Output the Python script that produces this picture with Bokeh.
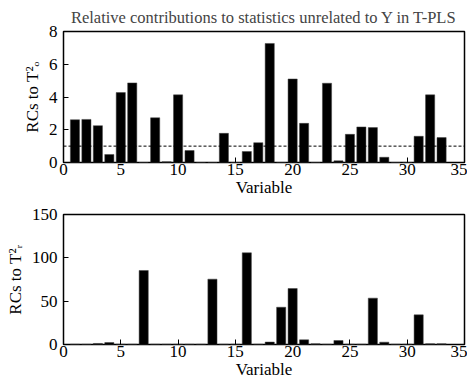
from bokeh.plotting import figure
from bokeh.layouts import column
from bokeh.models import Span, FixedTicker
from bokeh.embed import file_html
from bokeh.resources import INLINE

variables = list(range(1, 34))
rc_to_To2 = [2.61, 2.63, 2.25, 0.49, 4.27, 4.86, 0.0, 2.73, 0.05, 4.13,
             0.73, 0.0, 0.0, 1.78, 0.0, 0.67, 1.21, 7.27, 0.0, 5.10,
             2.39, 0.0, 4.84, 0.1, 1.72, 2.17, 2.13, 0.32, 0.0, 0.0,
             1.60, 4.13, 1.52]
rc_to_Tr2 = [0.3, 0.3, 1.2, 2.2, 0.3, 0.3, 85.4, 0.3, 0.3, 0.3,
             0.3, 0.3, 75.4, 0.3, 0.3, 105.8, 0.3, 2.8, 43.0, 64.6,
             5.4, 0.8, 0.3, 4.6, 0.3, 0.3, 53.5, 2.7, 0.3, 0.3,
             34.2, 0.8, 0.8]
threshold = 1.0
x_ticks = [0, 5, 10, 15, 20, 25, 30, 35]
y1_ticks = [0, 2, 4, 6, 8]
y2_ticks = [0, 50, 100, 150]

FONT = "Liberation Serif"


def style(p, yticks):
    p.outline_line_color = "black"
    p.outline_line_width = 1.5
    p.xgrid.visible = False
    p.ygrid.visible = False
    p.xaxis.ticker = FixedTicker(ticks=x_ticks)
    p.yaxis.ticker = FixedTicker(ticks=yticks)
    for axes in (p.xaxis, p.yaxis):
        axes.major_tick_in = 5
        axes.major_tick_out = 0
        axes.minor_tick_line_color = None
        axes.axis_line_color = None
        axes.major_tick_line_color = "black"
        axes.major_label_text_font = FONT
        axes.major_label_text_font_size = "17px"
        axes.major_label_text_font_style = "normal"
        axes.major_label_text_color = "black"
        axes.axis_label_text_font = FONT
        axes.axis_label_text_font_size = "17px"
        axes.axis_label_text_font_style = "normal"
        axes.axis_label_text_color = "black"
    p.xaxis.major_label_standoff = 1
    p.xaxis.axis_label_standoff = 0
    p.yaxis.major_label_standoff = 6
    p.yaxis.axis_label_standoff = 4


p1 = figure(width=467, height=200, x_range=(0, 35), y_range=(0, 8),
            output_backend="svg", toolbar_location=None,
            min_border_left=63, min_border_right=3, min_border_top=31, min_border_bottom=38,
            title="Relative contributions to statistics unrelated to Y in T-PLS")
p1.title.text_font = FONT
p1.title.text_font_size = "16.5px"
p1.title.text_font_style = "normal"
p1.title.align = "center"
p1.vbar(x=variables, top=rc_to_To2, width=0.8, fill_color="black", line_color="#444444", line_width=0.5)
p1.add_layout(Span(location=threshold, dimension="width", line_color="black",
                   line_width=1, line_dash="3 2"))
p1.xaxis.axis_label = "Variable"
p1.yaxis.axis_label = "RCs to T\u00b2\u2092"
style(p1, y1_ticks)

p2 = figure(width=467, height=183, x_range=(0, 35), y_range=(0, 150),
            output_backend="svg", toolbar_location=None,
            min_border_left=63, min_border_right=3, min_border_top=14, min_border_bottom=39)
p2.vbar(x=variables, top=rc_to_Tr2, width=0.8, fill_color="black", line_color="#444444", line_width=0.5)
p2.xaxis.axis_label = "Variable"
p2.yaxis.axis_label = "RCs to T\u00b2\u1d63"
style(p2, y2_ticks)

layout = column(p1, p2, spacing=0)
open("out.html", "w").write(file_html(layout, INLINE))
